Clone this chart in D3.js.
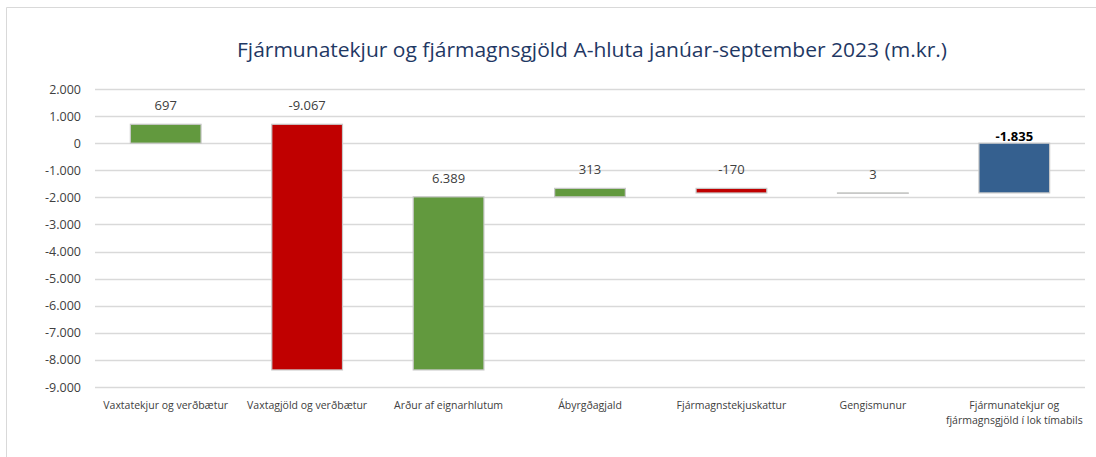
<!DOCTYPE html>
<html>
<head>
<meta charset="utf-8">
<script src="https://cdn.jsdelivr.net/npm/d3@7"></script>
<style>
  body { margin: 0; background: #fff; }
  text { font-family: "Open Sans", "Noto Sans", sans-serif; }
</style>
</head>
<body>
<svg id="chart" width="1096" height="457"></svg>
<script>
// data
const categories = [
    "Vaxtatekjur og verðbætur",
    "Vaxtagjöld og verðbætur",
    "Arður af eignarhlutum",
    "Ábyrgðagjald",
    "Fjármagnstekjuskattur",
    "Gengismunur",
    "Fjármunatekjur og|fjármagnsgjöld í lok tímabils"
];
const changes = [697, -9067, 6389, 313, -170, 3];
const totalValue = -1835;
const yTicks = [2000, 1000, 0, -1000, -2000, -3000, -4000, -5000, -6000, -7000, -8000, -9000];

const colors = { up: "#62993E", down: "#C00000", total: "#35608F" };

// build waterfall steps
let running = 0;
const steps = changes.map((v, i) => {
    const start = running;
    running += v;
    return { cat: categories[i], value: v, start: start, end: running, type: v >= 0 ? "up" : "down" };
});
steps.push({ cat: categories[6], value: totalValue, start: 0, end: totalValue, type: "total" });

const svg = d3.select("#chart");
// icelandic style: dot as thousands separator, plain hyphen for minus
const fmt = d => d3.format(",")(d).replace(/,/g, ".").replace("\u2212", "-");

// outer frame
svg.append("path")
    .attr("d", "M6.5,470 V7.5 H1100")
    .attr("fill", "none")
    .attr("stroke", "#d9d9d9")
    .attr("stroke-width", 1);

svg.append("text")
    .attr("x", 592)
    .attr("y", 57)
    .attr("text-anchor", "middle")
    .attr("fill", "#1F3864")
    .attr("font-size", 20)
    .attr("textLength", 710)
    .attr("lengthAdjust", "spacingAndGlyphs")
    .text("Fjármunatekjur og fjármagnsgjöld A-hluta janúar-september 2023 (m.kr.)");

const x = d3.scaleBand()
    .domain(categories)
    .range([95, 1085])
    .paddingInner(0.5)
    .paddingOuter(0.25);

const y = d3.scaleLinear()
    .domain([-9000, 2000])
    .range([387, 89]);

// gridlines
svg.append("g")
    .selectAll("line")
    .data(yTicks)
    .join("line")
    .attr("x1", 95)
    .attr("x2", 1085)
    .attr("y1", d => Math.round(y(d)) + 0.5)
    .attr("y2", d => Math.round(y(d)) + 0.5)
    .attr("stroke", "#d9d9d9")
    .attr("stroke-width", 1.3);

// y axis labels
const yAxis = svg.append("g")
    .attr("transform", "translate(95,0)")
    .call(d3.axisLeft(y).tickValues(yTicks).tickFormat(fmt).tickSize(0).tickPadding(14));
yAxis.select(".domain").remove();
yAxis.selectAll("text")
    .attr("font-size", 12.5)
    .attr("fill", "#404040")
    .style("font-family", '"Open Sans", sans-serif');

// bars
svg.append("g")
    .selectAll("rect")
    .data(steps)
    .join("rect")
    .attr("x", d => x(d.cat))
    .attr("width", x.bandwidth())
    .attr("y", d => y(Math.max(d.start, d.end)))
    .attr("height", d => Math.max(0.5, Math.abs(y(d.start) - y(d.end))))
    .attr("fill", d => colors[d.type])
    .attr("stroke", "#c8c8c8")
    .attr("stroke-width", 1.2);

// value labels
svg.append("g")
    .selectAll("text")
    .data(steps)
    .join("text")
    .attr("x", d => x(d.cat) + x.bandwidth() / 2)
    .attr("y", d => d.type === "total" ? y(Math.max(d.start, d.end)) - 2 : y(Math.max(d.start, d.end)) - 14)
    .attr("text-anchor", "middle")
    .attr("font-size", 13)
    .attr("font-weight", d => d.type === "total" ? "bold" : "normal")
    .attr("fill", d => d.type === "total" ? "#000" : "#404040")
    .text(d => fmt(d.value));

// category labels
const catG = svg.append("g");
categories.forEach(c => {
    const t = catG.append("text")
        .attr("x", x(c) + x.bandwidth() / 2)
        .attr("y", 409)
        .attr("text-anchor", "middle")
        .attr("font-size", 10.5)
        .attr("fill", "#404040");
    c.split("|").forEach((line, i) => {
        t.append("tspan")
            .attr("x", x(c) + x.bandwidth() / 2)
            .attr("dy", i === 0 ? 0 : 15)
            .text(line);
    });
});
</script>
</body>
</html>
